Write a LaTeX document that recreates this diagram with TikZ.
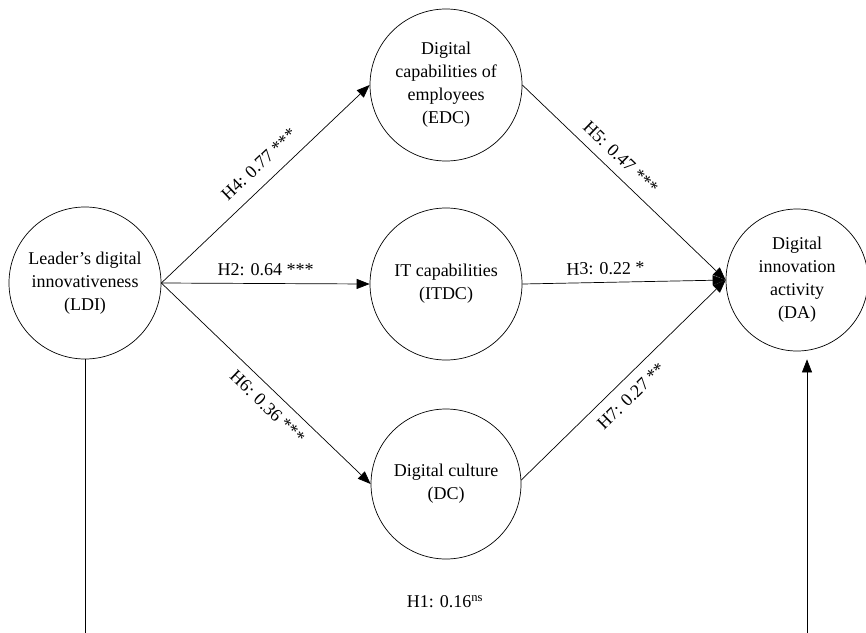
\documentclass[tikz,border=0pt]{standalone}
\usepackage{fontspec}
\setmainfont{Liberation Serif}
\usetikzlibrary{arrows.meta}
\begin{document}
\begin{tikzpicture}[x=1pt,y=-1pt,
  latent/.style={circle, draw, line width=0.7pt, inner sep=0pt, align=center,
    font=\fontsize{18}{23}\selectfont},
  pathar/.style={line width=0.7pt, -{Triangle[length=13pt,width=10pt]}},
  lab/.style={font=\fontsize{18}{22}\selectfont, sloped}]
\useasboundingbox (0,0) rectangle (866,632);
\node[latent, minimum size=152pt] (LDI) at (85,283) {Leader’s digital\\innovativeness\\(LDI)};
\node[latent, minimum size=152pt] (EDC) at (446,85) {Digital\\capabilities of\\employees\\(EDC)};
\node[latent, minimum size=152pt] (ITDC) at (446,284) {IT capabilities\\(ITDC)};
\node[latent, minimum size=150pt] (DC) at (446,484) {Digital culture\\(DC)};
\node[latent, minimum size=142pt] (DA) at (797,280) {Digital\\innovation\\activity\\(DA)};
\coordinate (b1) at (85,634);
\coordinate (b2) at (807,634);
\draw[pathar] (LDI.east) -- node[lab, pos=0.53, above=9pt] {H4: 0.77 ***} (EDC.west);
\draw[pathar] (LDI.east) -- node[lab, pos=0.5, above=4pt] {H2: 0.64 ***} (ITDC.west);
\draw[pathar] (LDI.east) -- node[lab, pos=0.56, below=6pt] {H6: 0.36 ***} (DC.west);
\draw[pathar] (EDC.east) -- node[lab, pos=0.43, above=6pt] {H5: 0.47 ***} (DA.west);
\draw[pathar] (ITDC.east) -- node[lab, pos=0.41, above=4pt] {H3: 0.22 *} (DA.west);
\draw[pathar] (DC.3) -- node[lab, pos=0.48, below=7pt] {H7: 0.27 **} (DA.west);
\draw[pathar, shorten >=8pt] (LDI.south) -- (b1) -- (b2) -- (DA.south -| b2);
\node[font=\fontsize{18}{22}\selectfont] (h1) at (445,602) {H1: 0.16\textsuperscript{ns}};
\end{tikzpicture}
\end{document}
